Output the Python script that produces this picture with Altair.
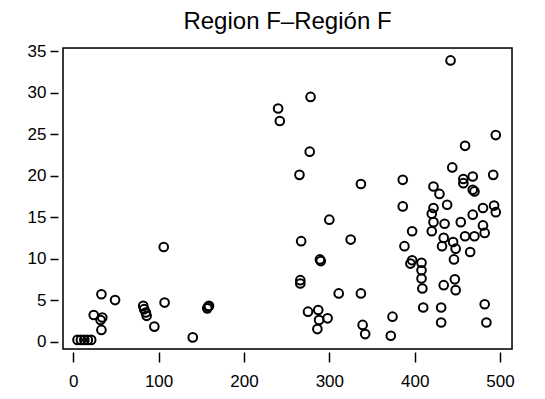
import altair as alt
import pandas as pd

title_text = "Region F\u2013Región F"
x_ticks = [0, 100, 200, 300, 400, 500]
y_ticks = [0, 5, 10, 15, 20, 25, 30, 35]

xs = [
    5, 9, 13, 17, 21, 24, 32, 34, 33, 33, 49,
    82, 83, 85, 86, 95, 107, 106, 140, 157, 158, 159,
    240, 242, 278, 277, 265, 300, 267, 325, 289, 290, 266, 266, 311,
    275, 287, 288, 298, 286,
    337, 339, 342, 374, 372, 337,
    386, 386, 397, 388, 397, 395, 408, 408, 408, 409, 410,
    442, 495, 459, 444, 492, 457, 457, 468, 468, 470, 422, 429,
    422, 438, 420, 480, 493, 495, 468, 422, 435, 454, 480, 482,
    420, 434, 459, 470, 445, 432, 448, 465, 446,
    434, 447, 448, 431, 431, 482, 484,
]
ys = [
    0.2, 0.2, 0.2, 0.2, 0.2, 3.2, 2.6, 2.9, 1.4, 5.7, 5.0,
    4.3, 3.9, 3.5, 3.1, 1.8, 4.7, 11.4, 0.5, 4.0, 4.2, 4.3,
    28.1, 26.6, 29.5, 22.9, 20.1, 14.7, 12.1, 12.3, 9.9, 9.7, 7.4, 7.0, 5.8,
    3.6, 3.8, 2.6, 2.8, 1.5,
    5.8, 2.0, 0.9, 3.0, 0.7, 19.0,
    19.5, 16.3, 13.3, 11.5, 9.8, 9.4, 9.5, 8.6, 7.6, 6.4, 4.1,
    33.9, 24.9, 23.6, 21.0, 20.1, 19.6, 19.1, 19.9, 18.3, 18.1, 18.7, 17.8,
    16.1, 16.5, 15.4, 16.1, 16.4, 15.6, 15.3, 14.4, 14.2, 14.4, 14.0, 13.1,
    13.3, 12.5, 12.7, 12.7, 12.0, 11.5, 11.2, 10.8, 9.9,
    6.8, 7.5, 6.2, 4.1, 2.3, 4.5, 2.3,
]

df = pd.DataFrame({"x": xs, "y": ys})
title_df = pd.DataFrame({"t": [title_text]})

font = "Liberation Sans"
W, H = 449, 301

points = (
    alt.Chart(df)
    .mark_point(shape="circle", filled=False, color="black", size=75, strokeWidth=2, opacity=1)
    .encode(
        x=alt.X(
            "x:Q",
            scale=alt.Scale(domain=[-12, 514], nice=False, zero=False),
            axis=alt.Axis(
                values=x_ticks, title=None, grid=False, domain=False,
                offset=3, tickSize=10, tickWidth=1.5, tickColor="black",
                labelPadding=11, labelFontSize=17, labelFont=font, labelColor="black",
            ),
        ),
        y=alt.Y(
            "y:Q",
            scale=alt.Scale(domain=[-0.9, 35.4], nice=False, zero=False),
            axis=alt.Axis(
                values=y_ticks, title=None, grid=False, domain=False,
                offset=5, tickSize=8, tickWidth=1.5, tickColor="black",
                labelPadding=4, labelFontSize=17, labelFont=font, labelColor="black",
            ),
        ),
    )
)

frame = (
    alt.Chart(title_df)
    .mark_rect(fill=None, fillOpacity=0, stroke="black", strokeWidth=1.5)
    .encode(x=alt.value(0), x2=alt.value(W), y=alt.value(0), y2=alt.value(H))
)

title = (
    alt.Chart(title_df)
    .mark_text(font=font, fontSize=24, color="black", align="center", baseline="alphabetic")
    .encode(text="t:N", x=alt.value(W / 2), y=alt.value(-19))
)

chart = (
    alt.layer(points, frame, title)
    .properties(
        width=W,
        height=H,
        autosize=alt.AutoSizeParams(type="none"),
        padding={"left": 63, "top": 48, "right": 33, "bottom": 50},
    )
    .configure_view(stroke=None)
    .configure(background="white")
)

chart.save("out.html", embed_options={"renderer": "svg", "actions": False})
